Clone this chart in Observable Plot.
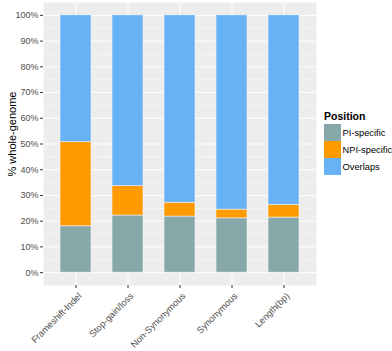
<!DOCTYPE html>
<html><head><meta charset="utf-8">
<script src="https://cdn.jsdelivr.net/npm/d3@7"></script>
<script src="https://cdn.jsdelivr.net/npm/@observablehq/plot@0.6"></script>
<style>
body{margin:0;background:#fff;}
#chart{position:relative;width:392px;height:351px;font-family:"Liberation Sans",Arial,Helvetica,sans-serif;}
</style>
</head><body><div id="chart"></div>
<script>
const categories = ["Frameshift-Indel","Stop-gain/loss","Non-Synonymous","Synonymous","Length(bp)"];
const series = ["PI-specific","NPI-specific","Overlaps"];
const piSpecific  = [18.0, 22.2, 21.8, 21.1, 21.4];
const npiSpecific = [32.7, 11.4, 5.4, 3.4, 4.9];
const overlaps    = [49.3, 66.4, 72.8, 75.5, 73.7];
const colors = ["#87A8A9", "#FF9A00", "#66B2F4"];
const yTicks = [0, 10, 20, 30, 40, 50, 60, 70, 80, 90, 100];
const yMinor = [5, 15, 25, 35, 45, 55, 65, 75, 85, 95];
const yTitle = "% whole-genome";
const legendTitle = "Position";

const valuesBySeries = [piSpecific, npiSpecific, overlaps];
const data = [];
series.forEach((s, i) => categories.forEach((c, j) => data.push({category: c, series: s, value: valuesBySeries[i][j]})));

const FONT = "Liberation Sans, Arial, Helvetica, sans-serif";
const chart = Plot.plot({
  width: 392, height: 351,
  marginLeft: 43, marginRight: 76, marginTop: 2, marginBottom: 66,
  style: {fontFamily: FONT, fontSize: "9px", color: "#4D4D4D", background: "white", overflow: "visible"},
  x: {domain: categories, paddingInner: 0.4, paddingOuter: 0.3, label: null},
  y: {domain: [-5, 105], label: null},
  color: {domain: series, range: colors},
  marks: [
    Plot.frame({fill: "#EDEDED", stroke: null}),
    Plot.gridY(yMinor, {stroke: "white", strokeOpacity: 1, strokeWidth: 0.5}),
    Plot.gridY(yTicks, {stroke: "white", strokeOpacity: 1, strokeWidth: 1}),
    Plot.gridX({stroke: "white", strokeOpacity: 1, strokeWidth: 1}),
    Plot.barY(data, {x: "category", y: "value", fill: "series", order: series, stroke: "#F3F3F3", strokeWidth: 0.6}),
    Plot.axisY(yTicks, {tickFormat: d => d + "%", tickSize: 3, tickPadding: 2, stroke: "#333", fill: "#4D4D4D", label: null}),
    Plot.axisX({tickRotate: -45, tickSize: 0, tickPadding: 5, fill: "#4D4D4D", label: null, dx: 4, dy: 4, fontSize: 9.2}),
    Plot.axisX({tickSize: 3, stroke: "#333", label: null, tickFormat: () => ""})
  ]
});
chart.setAttribute("font-family", FONT);
document.getElementById("chart").appendChild(chart);

const svg = d3.select(chart);
svg.append("text")
  .attr("transform", "translate(16,134) rotate(-90)")
  .attr("text-anchor", "middle")
  .attr("font-size", 11).attr("fill", "black")
  .text(yTitle);

const lg = svg.append("g").attr("transform", "translate(324,108)").attr("text-anchor", "start");
lg.append("text").attr("x", 0).attr("y", 12).attr("font-size", 10.5).attr("font-weight", "bold").attr("fill", "black").text(legendTitle);
series.forEach((s, i) => {
  lg.append("rect").attr("x", 0).attr("y", 16 + i * 17).attr("width", 17).attr("height", 17).attr("fill", colors[i]);
  lg.append("text").attr("x", 18.5).attr("y", 16 + i * 17 + 12).attr("font-size", 9.3).attr("fill", "black").text(s);
});
</script>
</body></html>
